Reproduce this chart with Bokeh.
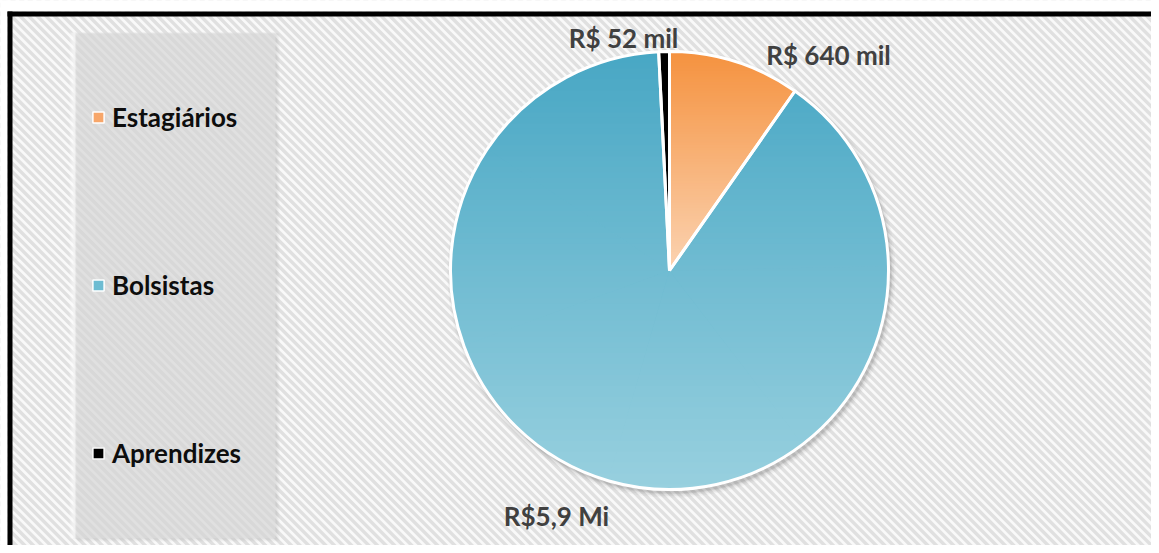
import numpy as np
from bokeh.plotting import figure
from bokeh.models import Range1d, Legend, LegendItem, ColumnDataSource
from bokeh.embed import file_html
from bokeh.resources import INLINE
from bokeh.core.properties import value

# ---------------- data ----------------
categories = ["Estagiários", "Bolsistas", "Aprendizes"]
values_mil = [640, 5900, 52]            # R$ mil
value_labels = ["R$ 640 mil", "R$5,9 Mi", "R$ 52 mil"]

# ---------------- style ----------------
color_top = ["#F5923F", "#48A7C4", "#000000"]
color_bottom = ["#FBD3B2", "#98D0DF", "#000000"]
color_base = ["#F7A66A", "#6DBCD2", "#000000"]
FONT = "Lato"

W, H = 1151, 545


def sx(x):
    return x


def sy(y):
    return H - y


p = figure(width=W, height=H, x_range=Range1d(0, W), y_range=Range1d(0, H),
           output_backend="svg", toolbar_location=None, min_border=0,
           outline_line_color=None)
p.axis.visible = False
p.grid.visible = False
p.background_fill_color = "#f9f9f9"
p.border_fill_color = "white"

# diagonal striped background (lines running down-right)
period = 8.6
cs = np.arange(-10, W + H + 20, period)
p.segment(x0=cs - H - 20, y0=[H + 20] * len(cs), x1=cs + 20, y1=[-20] * len(cs),
          line_color="#e0e0e0", line_width=3.4)

# white margin + black frame (top + left)
p.quad(left=-5, right=W + 5, bottom=sy(11), top=H + 5, fill_color="white", line_color=None)
p.quad(left=-5, right=sx(7), bottom=-5, top=H + 5, fill_color="white", line_color=None)
p.quad(left=sx(7), right=W + 5, bottom=sy(16), top=sy(11), fill_color="black", line_color=None)
p.quad(left=sx(7), right=sx(12), bottom=-5, top=sy(11), fill_color="black", line_color=None)

# legend panel with soft shadow
for k in range(4):
    p.quad(left=sx(73) + 1 + k, right=sx(275) + 1 + k, bottom=sy(538) - k, top=sy(32) - 1,
           fill_color="#707070", fill_alpha=0.045, line_color=None)
p.quad(left=sx(73), right=sx(275), bottom=sy(538), top=sy(32), fill_color="#dedede",
       fill_alpha=0.62, line_color=None)
for k in range(4):
    p.quad(left=sx(73) - 1 - k, right=sx(73) + 2, bottom=sy(538), top=sy(32), fill_color="white",
           fill_alpha=0.18, line_color=None)

# ---------------- pie ----------------
cx, cy, r = sx(669), sy(270), 219
total = float(sum(values_mil))
fr = np.array(values_mil) / total
cum = np.concatenate([[0], np.cumsum(fr)]) * 2 * np.pi
start = np.pi / 2 - cum[1:]
end = np.pi / 2 - cum[:-1]

# shadow
for dr, a in [(5, 0.05), (3.5, 0.08), (2, 0.12), (1, 0.15)]:
    p.circle(x=cx + 2, y=cy - 3, radius=r + dr, fill_color="#6a6a6a", fill_alpha=a, line_color=None)

src = ColumnDataSource(dict(start=start, end=end, color=color_base, cat=categories))
base = p.wedge(x=cx, y=cy, radius=r, start_angle="start", end_angle="end", source=src,
               fill_color="color", line_color="white", line_width=1.5)


def hexmix(c1, c2, t):
    a = np.array([int(c1[i:i + 2], 16) for i in (1, 3, 5)], float)
    b = np.array([int(c2[i:i + 2], 16) for i in (1, 3, 5)], float)
    m = a + (b - a) * t
    return "#%02x%02x%02x" % tuple(int(round(v)) for v in m)


def clip(poly, y0, keep_above):
    out = []
    n = len(poly)
    for i in range(n):
        P, Q = poly[i], poly[(i + 1) % n]
        inP = P[1] >= y0 if keep_above else P[1] <= y0
        inQ = Q[1] >= y0 if keep_above else Q[1] <= y0
        if inP:
            out.append(P)
        if inP != inQ:
            t = (y0 - P[1]) / (Q[1] - P[1])
            out.append((P[0] + t * (Q[0] - P[0]), y0))
    return out


bx, by, bc = [], [], []
NB = 80
for i in range(len(values_mil)):
    # bounding extent of the whole slice (gradient spans the slice)
    thf = np.linspace(start[i], end[i], 400)
    ys_all = np.concatenate([[cy], cy + r * np.sin(thf)])
    ymin, ymax = ys_all.min(), ys_all.max()
    # split slice into convex pieces (<= 60 deg)
    nsub = int(np.ceil((end[i] - start[i]) / (np.pi / 3)))
    sub = np.linspace(start[i], end[i], nsub + 1)
    edges = np.linspace(ymin, ymax, NB + 1)
    for s in range(nsub):
        a0 = sub[s] - (0.004 if s > 0 else 0)
        a1 = sub[s + 1]
        th = np.linspace(a0, a1, max(6, int((a1 - a0) * 90)))
        poly = [(cx, cy)] + [(cx + r * np.cos(t), cy + r * np.sin(t)) for t in th]
        for j in range(NB):
            lo, hi = edges[j] - 0.4, edges[j + 1] + 0.4
            part = clip(clip(poly, lo, True), hi, False)
            if len(part) < 3:
                continue
            t = (ymax - (edges[j] + edges[j + 1]) / 2) / (ymax - ymin)
            col = hexmix(color_top[i], color_bottom[i], t)
            bx.append([q[0] for q in part])
            by.append([q[1] for q in part])
            bc.append(col)
p.patches(xs=bx, ys=by, fill_color=bc, line_color=None)

# white separators / outline on top
p.wedge(x=cx, y=cy, radius=r, start_angle=start, end_angle=end,
        fill_alpha=0, line_color="white", line_width=3)

# data labels (layout offsets from the pie centre)
label_dx = [159, -113, -46]
label_dy = [216, -245, 233]
p.text(x=[cx + d for d in label_dx], y=[cy + d for d in label_dy], text=value_labels,
       text_font=value(FONT), text_font_style="bold", text_font_size="26px",
       text_color="#404040", text_align="center", text_baseline="middle")

# legend
items = [LegendItem(label=categories[i], renderers=[base], index=i) for i in range(3)]
legend = Legend(items=items, location=(81, 65), orientation="vertical", spacing=134,
                padding=10, margin=0, glyph_width=14, glyph_height=14, label_standoff=7,
                label_height=34, label_text_font=FONT, label_text_font_style="bold",
                label_text_font_size="26px", label_text_color="#0d0d0d",
                background_fill_alpha=0, border_line_alpha=0)
p.add_layout(legend)

open("out.html", "w").write(file_html(p, INLINE))
